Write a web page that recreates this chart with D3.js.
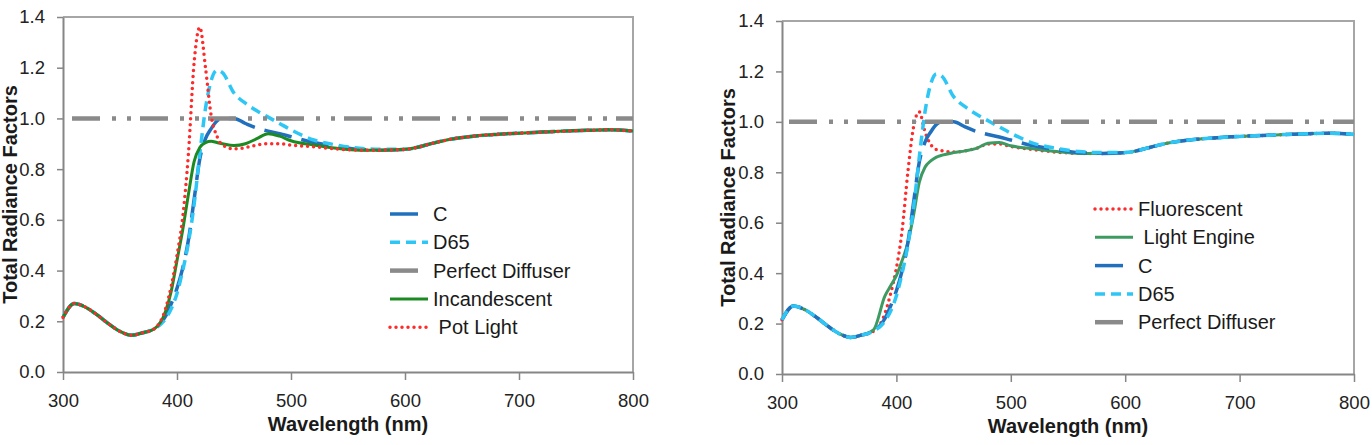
<!DOCTYPE html>
<html>
<head>
<meta charset="utf-8">
<script src="https://cdn.jsdelivr.net/npm/d3@7"></script>
<style>
  body { margin: 0; background: #fff; }
  svg { display: block; font-family: "Liberation Sans", Arial, sans-serif; }
</style>
</head>
<body>
<div id="container"></div>
<script>
// page size
let w = 1372;
let h = 445;

// ---- data ----
let wavelengths = [300,310,320,330,340,350,360,370,380,390,395,400,405,410,415,420,425,430,435,440,450,460,470,480,490,500,520,540,560,580,600,610,620,640,660,680,700,720,740,760,780,800];

let cValues = [0.215,0.27,0.255,0.225,0.19,0.16,0.145,0.155,0.17,0.22,0.27,0.33,0.41,0.52,0.68,0.84,0.92,0.96,0.99,1.0,1.0,0.98,0.962,0.95,0.94,0.928,0.905,0.89,0.878,0.875,0.878,0.885,0.897,0.918,0.93,0.937,0.942,0.946,0.95,0.953,0.955,0.95];

let d65Values = [0.215,0.27,0.255,0.225,0.19,0.16,0.145,0.155,0.17,0.21,0.25,0.31,0.40,0.51,0.66,0.86,1.04,1.15,1.19,1.18,1.10,1.06,1.03,1.005,0.98,0.955,0.915,0.895,0.882,0.878,0.878,0.885,0.897,0.918,0.93,0.937,0.942,0.946,0.95,0.953,0.955,0.95];

let incandescentValues = [0.215,0.27,0.255,0.225,0.19,0.16,0.145,0.155,0.17,0.24,0.32,0.44,0.56,0.70,0.83,0.885,0.905,0.91,0.905,0.90,0.893,0.90,0.92,0.94,0.93,0.912,0.895,0.882,0.875,0.875,0.878,0.885,0.897,0.918,0.93,0.937,0.942,0.946,0.95,0.953,0.955,0.95];

let potLightValues = [0.215,0.27,0.255,0.225,0.19,0.16,0.145,0.155,0.17,0.25,0.34,0.46,0.61,0.86,1.22,1.36,1.2,1.01,0.93,0.895,0.88,0.885,0.895,0.90,0.90,0.895,0.888,0.88,0.875,0.875,0.878,0.885,0.897,0.918,0.93,0.937,0.942,0.946,0.95,0.953,0.955,0.95];

let fluorescentValues = [0.215,0.27,0.255,0.225,0.19,0.16,0.145,0.155,0.17,0.24,0.32,0.42,0.57,0.80,0.98,1.04,0.96,0.91,0.89,0.885,0.88,0.885,0.895,0.912,0.912,0.902,0.89,0.88,0.875,0.875,0.878,0.885,0.897,0.918,0.93,0.937,0.942,0.946,0.95,0.953,0.955,0.95];

let lightEngineValues = [0.215,0.27,0.255,0.225,0.19,0.16,0.145,0.155,0.175,0.31,0.35,0.39,0.45,0.52,0.63,0.76,0.82,0.845,0.86,0.868,0.878,0.885,0.895,0.915,0.918,0.905,0.893,0.882,0.875,0.875,0.878,0.885,0.897,0.918,0.93,0.937,0.942,0.946,0.95,0.953,0.955,0.95];

let diffuserWavelengths = [300, 800];
let diffuserValues = [1.0, 1.0];

let xTicks = [300,400,500,600,700,800];
let yTicks = [0.0,0.2,0.4,0.6,0.8,1.0,1.2,1.4];

let leftLegend = ["C","D65","Perfect Diffuser","Incandescent"," Pot Light"];
let rightLegend = ["Fluorescent"," Light Engine","C","D65","Perfect Diffuser"];

// ---- styles ----
let styles = {
  "C":            {color:"#2170bd", width:3.5, dash:"28,10"},
  "D65":          {color:"#2ec6f5", width:3.5, dash:"10,6"},
  "Diffuser":     {color:"#8a8a8a", width:4.5, dash:"28,12,4,11,4,9"},
  "Incandescent": {color:"#1c8a22", width:3,   dash:null},
  "Pot Light":    {color:"#ff2a2a", width:3.5, dash:"0,6", cap:"round"},
  "Fluorescent":  {color:"#ff2a2a", width:3.5, dash:"0,6", cap:"round"},
  "Light Engine": {color:"#3d9b62", width:3,   dash:null}
};

let viz = d3.select("#container")
  .append("svg")
    .attr("width", w)
    .attr("height", h)
    .style("background-color", "white");

function drawChart(opt){
  let g = viz.append("g");

  let x = d3.scaleLinear().domain([300,800]).range([opt.left, opt.right]);
  let y = d3.scaleLinear().domain([0,1.4]).range([opt.bottom, opt.top]);

  // plot frame (top + right)
  g.append("path")
    .attr("d", "M"+opt.left+","+opt.top+"H"+opt.right+"V"+opt.bottom)
    .attr("fill","none")
    .attr("stroke","#a6a6a6")
    .attr("stroke-width",2);

  let xAxis = g.append("g")
    .attr("transform","translate(0,"+opt.bottom+")")
    .call(d3.axisBottom(x).tickValues(xTicks).tickSize(8).tickSizeOuter(0).tickPadding(14).tickFormat(d3.format("d")));

  let yAxis = g.append("g")
    .attr("transform","translate("+opt.left+",0)")
    .call(d3.axisLeft(y).tickValues(yTicks).tickSize(6).tickSizeOuter(0).tickPadding(12).tickFormat(d3.format(".1f")));

  [xAxis, yAxis].forEach(function(a){
    a.select(".domain").attr("stroke","#868686").attr("stroke-width",2);
    a.selectAll(".tick line").attr("stroke","#868686").attr("stroke-width",1.5);
    a.selectAll(".tick text").attr("fill","#222").style("font-size","18.5px");
  });

  // series
  opt.series.forEach(function(s){
    let st = styles[s.style];
    let line = d3.line()
      .x(function(d,i){ return x(s.wl[i]); })
      .y(function(d){ return y(d); })
      .curve(d3.curveMonotoneX);
    let p = g.append("path")
      .datum(s.values)
      .attr("d", line)
      .attr("fill","none")
      .attr("stroke", st.color)
      .attr("stroke-width", st.width)
      .attr("stroke-linecap", st.cap || "butt")
      .attr("stroke-linejoin","round");
    if (st.dash) p.attr("stroke-dasharray", st.dash);
    if (s.offset) p.attr("stroke-dashoffset", s.offset);
  });

  // legend
  opt.legend.forEach(function(name, i){
    let st = styles[opt.legendStyles[i]];
    let ly = opt.legendY + i*opt.legendStep;
    let l = g.append("line")
      .attr("x1", opt.legendX).attr("x2", opt.legendX + opt.legendLen)
      .attr("y1", ly).attr("y2", ly)
      .attr("stroke", st.color)
      .attr("stroke-width", st.width)
      .attr("stroke-linecap", st.cap || "butt");
    if (st.dash) l.attr("stroke-dasharray", st.dash);
    g.append("text")
      .attr("x", opt.legendTextX)
      .attr("y", ly)
      .attr("dy","0.35em")
      .style("white-space","pre")
      .style("font-size","20px")
      .attr("fill","#1a1a1a")
      .text(name);
  });

  // axis titles
  g.append("text")
    .attr("x", (opt.left+opt.right)/2)
    .attr("y", opt.bottom + 59)
    .attr("text-anchor","middle")
    .style("font-size","20px")
    .style("font-weight","bold")
    .attr("fill","#1a1a1a")
    .text("Wavelength (nm)");

  g.append("text")
    .attr("transform","translate("+opt.yTitleX+","+((opt.top+opt.bottom)/2)+") rotate(-90)")
    .attr("text-anchor","middle")
    .style("font-size","20px")
    .style("font-weight","bold")
    .attr("fill","#1a1a1a")
    .text("Total Radiance Factors");
}

// left chart
drawChart({
  left:63, right:633, top:17, bottom:372, yTitleX:17,
  series:[
    {wl:wavelengths, values:cValues, style:"C"},
    {wl:wavelengths, values:d65Values, style:"D65"},
    {wl:diffuserWavelengths, values:diffuserValues, style:"Diffuser", offset:59},
    {wl:wavelengths, values:incandescentValues, style:"Incandescent"},
    {wl:wavelengths, values:potLightValues, style:"Pot Light"}
  ],
  legend:leftLegend,
  legendStyles:["C","D65","Diffuser","Incandescent","Pot Light"],
  legendX:390, legendLen:38, legendTextX:433, legendY:214, legendStep:28.3
});

// right chart
drawChart({
  left:782, right:1354, top:21, bottom:374, yTitleX:735,
  series:[
    {wl:wavelengths, values:fluorescentValues, style:"Fluorescent"},
    {wl:wavelengths, values:lightEngineValues, style:"Light Engine"},
    {wl:wavelengths, values:cValues, style:"C"},
    {wl:wavelengths, values:d65Values, style:"D65"},
    {wl:diffuserWavelengths, values:diffuserValues, style:"Diffuser", offset:61}
  ],
  legend:rightLegend,
  legendStyles:["Fluorescent","Light Engine","C","D65","Diffuser"],
  legendX:1095, legendLen:38, legendTextX:1138, legendY:209, legendStep:28.3
});
</script>
</body>
</html>
